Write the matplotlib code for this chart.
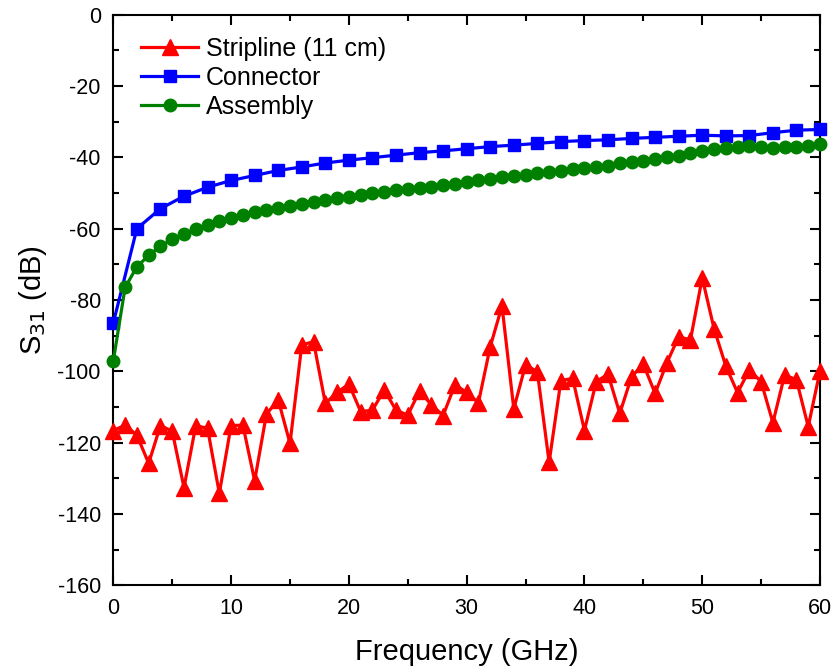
import numpy as np
import matplotlib.pyplot as plt

# Datos
freq_1ghz = np.arange(0, 61, 1)
freq_2ghz = np.arange(0, 61, 2)

stripline = [
    -116.6, -115.1, -117.9, -125.8, -115.2, -116.8, -132.6, -115.2, -116.0, -134.2,
    -115.2, -115.1, -130.7, -112.0, -108.0, -120.2, -92.6, -91.7, -109.0, -105.9,
    -103.6, -111.3, -110.9, -105.2, -110.9, -112.3, -105.5, -109.4, -112.4, -103.8,
    -105.9, -108.8, -93.1, -81.7, -110.5, -98.2, -100.1, -125.5, -102.6, -102.0,
    -116.6, -102.9, -100.8, -111.8, -101.5, -98.0, -106.2, -97.6, -90.3, -91.2,
    -73.8, -88.0, -98.5, -106.0, -99.6, -102.9, -114.4, -101.0, -102.4, -115.5,
    -99.9,
]

connector = [
    -86.4, -60.0, -54.4, -50.9, -48.4, -46.5, -45.1, -43.7, -42.7, -41.6,
    -40.8, -40.1, -39.4, -38.7, -38.2, -37.6, -37.0, -36.6, -36.1, -35.6,
    -35.3, -35.1, -34.7, -34.4, -34.1, -33.8, -34.0, -33.9, -33.1, -32.4,
    -32.2,
]

assembly = [
    -97.0, -76.5, -70.7, -67.5, -64.9, -63.0, -61.5, -60.2, -58.9, -57.9,
    -56.9, -56.2, -55.4, -54.8, -54.1, -53.6, -53.0, -52.4, -52.0, -51.5,
    -51.0, -50.6, -50.1, -49.6, -49.3, -48.9, -48.5, -48.2, -47.9, -47.5,
    -46.9, -46.4, -46.1, -45.6, -45.2, -45.0, -44.5, -44.1, -43.8, -43.4,
    -43.0, -42.6, -42.3, -41.7, -41.3, -40.9, -40.6, -40.0, -39.5, -38.9,
    -38.3, -37.8, -37.3, -37.1, -36.9, -37.1, -37.3, -37.2, -37.1, -36.8,
    -36.3,
]

plt.rcParams['font.family'] = ['Liberation Sans', 'DejaVu Sans']
plt.rcParams['axes.unicode_minus'] = False

fig = plt.figure(figsize=(8.37, 6.71), dpi=100)
ax = fig.add_axes([0.1354, 0.1277, 0.8443, 0.8505])

ax.plot(freq_1ghz, stripline, color='#FF0000', marker='^', markersize=11,
        linewidth=2.3, label='Stripline (11 cm)', clip_on=False, zorder=3)
ax.plot(freq_2ghz, connector, color='#0000FF', marker='s', markersize=8,
        linewidth=2.3, label='Connector', clip_on=False, zorder=3)
ax.plot(freq_1ghz, assembly, color='#008000', marker='o', markersize=9,
        linewidth=2.3, label='Assembly', clip_on=False, zorder=3)

ax.set_xlim(0, 60)
ax.set_ylim(-160, 0)
ax.set_xticks(np.arange(0, 61, 10))
ax.set_xticks(np.arange(0, 61, 5), minor=True)
ax.set_yticks(np.arange(-160, 1, 20))
ax.set_yticks(np.arange(-160, 1, 10), minor=True)

ax.tick_params(which='both', direction='in', top=True, right=True,
               width=1.5, labelsize=15.5)
ax.tick_params(which='major', length=7)
ax.tick_params(which='minor', length=4)
ax.tick_params(axis='y', pad=9)
ax.tick_params(axis='x', pad=9)
for s in ax.spines.values():
    s.set_linewidth(1.5)

ax.set_xlabel('Frequency (GHz)', fontsize=21, labelpad=14)
ax.set_ylabel('S$_{31}$ (dB)', fontsize=21, labelpad=6)

ax.legend(loc='upper left', bbox_to_anchor=(0, 1.009), frameon=False,
          fontsize=18, handlelength=2.3, handletextpad=0.3,
          labelspacing=0.2, borderaxespad=0.7)

fig.savefig('out.png', dpi=100)
